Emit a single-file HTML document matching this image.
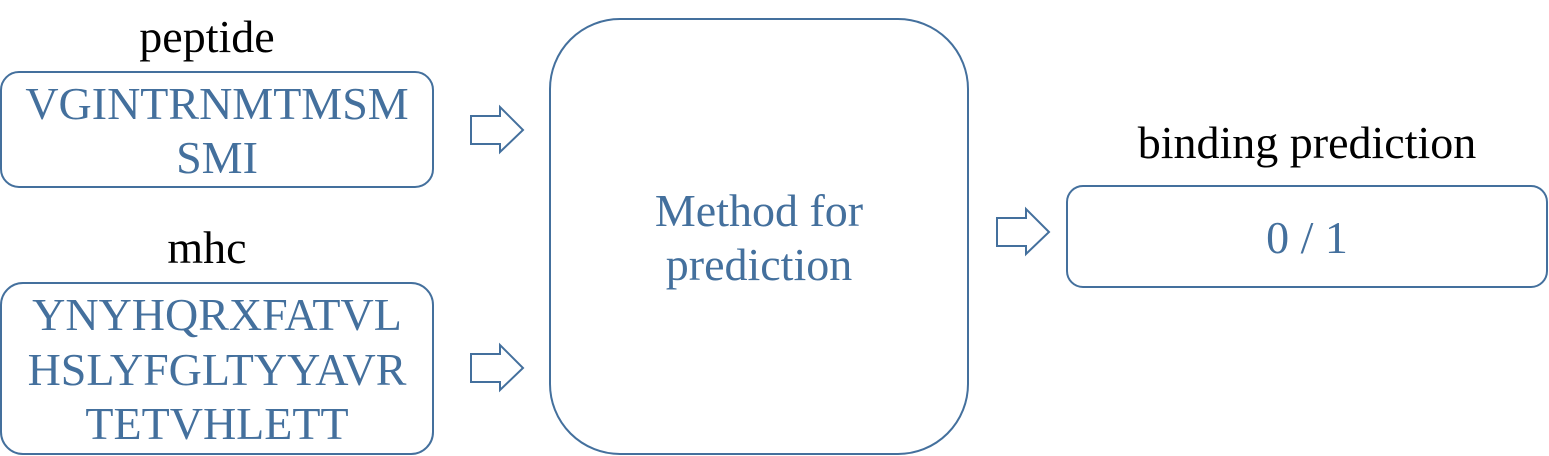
<!DOCTYPE html>
<html><head><meta charset="utf-8"><style>
html,body{margin:0;padding:0;background:#fff;}
svg{display:block;}
text{font-family:"Liberation Serif",serif;}
</style></head><body>
<svg width="1549" height="456" viewBox="0 0 1549 456">
<g fill="none" stroke="#44709d" stroke-width="2">
<rect x="1" y="72" width="432" height="115" rx="18"/>
<rect x="1" y="283" width="432" height="171" rx="22"/>
<rect x="550" y="19" width="418" height="435" rx="70"/>
<rect x="1067" y="186" width="480" height="101" rx="16"/>
<path d="M471 116 H500 V107 L523 130 L500 152 V144 H471 Z"/>
<path d="M471 354 H500 V345 L523 368 L500 390 V382 H471 Z"/>
<path d="M997 218 H1026 V209 L1049 232 L1026 254 V246 H997 Z"/>
</g>
<g font-size="46" text-anchor="middle" fill="#000">
<text x="207" y="52">peptide</text>
<text x="207" y="263">mhc</text>
<text x="1307" y="158">binding prediction</text>
</g>
<g font-size="46" text-anchor="middle" fill="#44709d">
<text x="217" y="119">VGINTRNMTMSM</text>
<text x="217" y="173">SMI</text>
<text x="217" y="330">YNYHQRXFATVL</text>
<text x="217" y="385">HSLYFGLTYYAVR</text>
<text x="217" y="439">TETVHLETT</text>
<text x="759" y="226">Method for</text>
<text x="759" y="280">prediction</text>
<text x="1307" y="253">0 / 1</text>
</g>
</svg>
</body></html>
